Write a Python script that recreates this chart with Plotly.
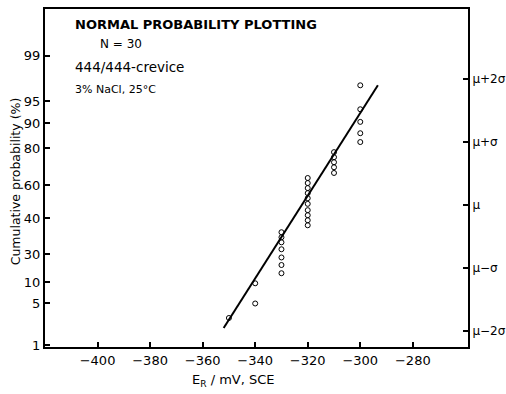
import plotly.graph_objects as go

# Data (x: E_R in mV SCE, y: position in sigma units, mu = 0)
potential_mv = [-350,
                -340, -340,
                -330, -330, -330, -330, -330, -330, -330,
                -320, -320, -320, -320, -320, -320, -320, -320, -320, -320,
                -310, -310, -310, -310, -310,
                -300, -300, -300, -300, -300]
sigma_pos = [-1.79,
             -1.24, -1.56,
             -0.43, -0.51, -0.59, -0.70, -0.83, -0.95, -1.08,
             0.43, 0.35, 0.27, 0.19, 0.11, 0.02, -0.08, -0.16, -0.24, -0.32,
             0.84, 0.76, 0.68, 0.60, 0.51,
             1.90, 1.52, 1.32, 1.14, 1.00]

fit_x = [-352, -293.3]
fit_y = [-1.95, 1.90]

x_ticks = [-400, -380, -360, -340, -320, -300, -280]
prob_labels = ["99", "95", "90", "80", "60", "40", "30", "10", "5", "1"]
prob_pos = [2.37, 1.65, 1.30, 0.90, 0.32, -0.21, -0.78, -1.22, -1.56, -2.22]
sigma_labels = ["μ+2σ", "μ+σ", "μ", "μ−σ", "μ−2σ"]
sigma_vals = [2, 1, 0, -1, -2]

X_RANGE = [-420, -259]
Y_RANGE = [-2.25, 3.11]
FONT = "DejaVu Sans"

fig = go.Figure()
fig.add_trace(go.Scatter(x=fit_x, y=fit_y, mode="lines",
                         line=dict(color="black", width=2), showlegend=False))
fig.add_trace(go.Scatter(x=potential_mv, y=sigma_pos, mode="markers",
                         marker=dict(symbol="circle-open", size=5, color="black",
                                     line=dict(width=1, color="black")),
                         showlegend=False))
fig.add_trace(go.Scatter(x=[None], y=[None], yaxis="y2", showlegend=False,
                         hoverinfo="skip"))

texts = [
    ("<b>NORMAL PROBABILITY PLOTTING</b>", -409.5, 2.86, 13),
    ("N = 30", -400, 2.56, 12),
    ("444/444-crevice", -409.5, 2.19, 13.5),
    ("3% NaCl, 25°C", -409.5, 1.83, 11),
]
for t, x, y, s in texts:
    fig.add_annotation(text=t, x=x, y=y, xref="x", yref="y", xanchor="left",
                       yanchor="middle", showarrow=False,
                       font=dict(family=FONT, size=s, color="black"))

fig.add_annotation(text="E<sub>R</sub> / mV, SCE", x=-348.3, y=-0.098,
                   xref="x", yref="paper", xanchor="center", yanchor="middle",
                   showarrow=False, font=dict(family=FONT, size=13, color="black"))
fig.add_annotation(text="Cumulative probability (%)", x=-0.071, y=0.49,
                   xref="paper", yref="paper", xanchor="center", yanchor="middle",
                   textangle=-90, showarrow=False,
                   font=dict(family=FONT, size=12.5, color="black"))

fig.update_layout(
    width=506, height=394,
    margin=dict(l=45, r=38, t=9, b=47),
    plot_bgcolor="white", paper_bgcolor="white",
    font=dict(family=FONT, size=13, color="black"),
    xaxis=dict(range=X_RANGE, tickvals=x_ticks, ticks="inside", ticklen=5,
               tickwidth=1.5, tickcolor="black", showline=True, linewidth=2,
               linecolor="black", mirror=True, showgrid=False, zeroline=False,
               automargin=False, tickfont=dict(size=13, color="black")),
    yaxis=dict(range=Y_RANGE, tickvals=prob_pos, ticktext=prob_labels,
               ticks="inside", ticklen=5, tickwidth=1.5, tickcolor="black",
               showline=True, linewidth=2, linecolor="black", showgrid=False,
               zeroline=False, automargin=False,
               tickfont=dict(size=13, color="black")),
    yaxis2=dict(range=Y_RANGE, overlaying="y", side="right", tickvals=sigma_vals,
                ticktext=sigma_labels, ticks="inside", ticklen=5, tickwidth=1.5,
                tickcolor="black", showline=True, linewidth=2, linecolor="black",
                showgrid=False, zeroline=False, automargin=False,
                tickfont=dict(size=12, color="black")),
)

fig.write_html("out.html", config={"displayModeBar": False},
               post_script="document.body.style.margin='0';"
                           "document.body.style.overflow='hidden';")
